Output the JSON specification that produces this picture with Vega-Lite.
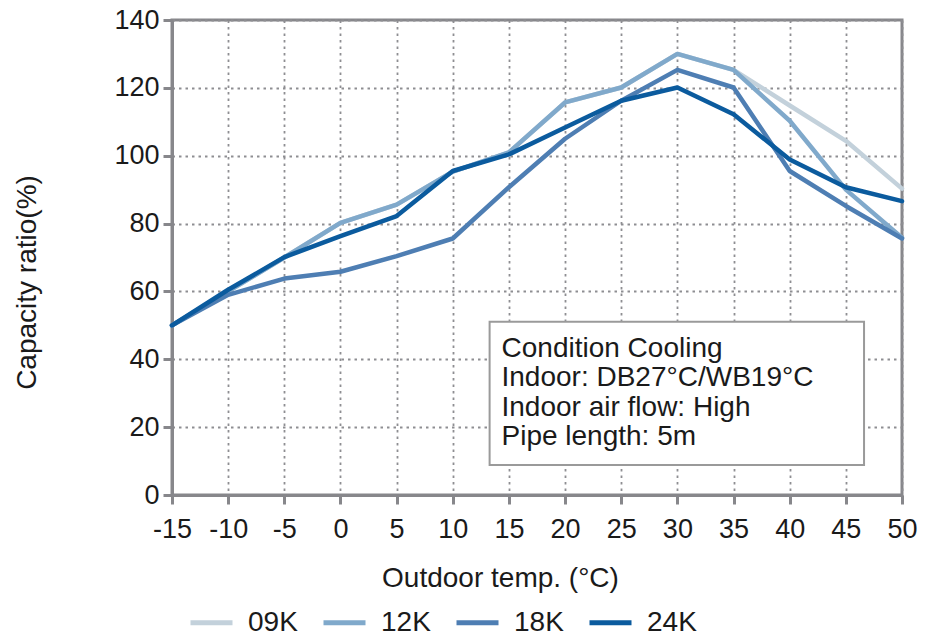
{
  "$schema": "https://vega.github.io/schema/vega-lite/v6.json",
  "width": 730,
  "height": 475,
  "autosize": {"type": "none"},
  "padding": {"left": 172, "top": 20, "right": 34, "bottom": 144},
  "background": "white",
  "config": {
    "font": "Liberation Sans",
    "view": {"stroke": "#87878b", "strokeWidth": 3},
    "axis": {
      "labelFont": "Liberation Sans",
      "titleFont": "Liberation Sans",
      "labelFontSize": 27,
      "titleFontSize": 28,
      "labelColor": "#1a1a1a",
      "titleColor": "#1a1a1a",
      "titleFontWeight": "normal",
      "domainColor": "#87878b",
      "domainWidth": 3,
      "tickColor": "#87878b",
      "tickWidth": 3,
      "tickSize": 9,
      "gridColor": "#8e8e92",
      "gridDash": [2.5, 4],
      "gridWidth": 1.8,
      "labelOverlap": false,
      "labelFlush": false,
      "labelBound": false
    }
  },
  "datasets": {
    "curves": [
      {"temp": -15, "series": "09K", "ratio": 50}, {"temp": -10, "series": "09K", "ratio": 60}, {"temp": -5, "series": "09K", "ratio": 70}, {"temp": 0, "series": "09K", "ratio": 80.2}, {"temp": 5, "series": "09K", "ratio": 85.6}, {"temp": 10, "series": "09K", "ratio": 95.3}, {"temp": 15, "series": "09K", "ratio": 101}, {"temp": 20, "series": "09K", "ratio": 115.7}, {"temp": 25, "series": "09K", "ratio": 120.1}, {"temp": 30, "series": "09K", "ratio": 130}, {"temp": 35, "series": "09K", "ratio": 125.3}, {"temp": 40, "series": "09K", "ratio": 114.8}, {"temp": 45, "series": "09K", "ratio": 104.4}, {"temp": 50, "series": "09K", "ratio": 90.3},
      {"temp": -15, "series": "12K", "ratio": 50}, {"temp": -10, "series": "12K", "ratio": 60}, {"temp": -5, "series": "12K", "ratio": 70}, {"temp": 0, "series": "12K", "ratio": 80.2}, {"temp": 5, "series": "12K", "ratio": 85.6}, {"temp": 10, "series": "12K", "ratio": 95.3}, {"temp": 15, "series": "12K", "ratio": 101}, {"temp": 20, "series": "12K", "ratio": 115.7}, {"temp": 25, "series": "12K", "ratio": 120.1}, {"temp": 30, "series": "12K", "ratio": 130}, {"temp": 35, "series": "12K", "ratio": 125.3}, {"temp": 40, "series": "12K", "ratio": 110.3}, {"temp": 45, "series": "12K", "ratio": 90}, {"temp": 50, "series": "12K", "ratio": 75.8},
      {"temp": -15, "series": "18K", "ratio": 50}, {"temp": -10, "series": "18K", "ratio": 59}, {"temp": -5, "series": "18K", "ratio": 63.8}, {"temp": 0, "series": "18K", "ratio": 65.8}, {"temp": 5, "series": "18K", "ratio": 70.4}, {"temp": 10, "series": "18K", "ratio": 75.6}, {"temp": 15, "series": "18K", "ratio": 90.7}, {"temp": 20, "series": "18K", "ratio": 105}, {"temp": 25, "series": "18K", "ratio": 116.2}, {"temp": 30, "series": "18K", "ratio": 125.3}, {"temp": 35, "series": "18K", "ratio": 120.1}, {"temp": 40, "series": "18K", "ratio": 95.5}, {"temp": 45, "series": "18K", "ratio": 85.2}, {"temp": 50, "series": "18K", "ratio": 75.6},
      {"temp": -15, "series": "24K", "ratio": 50}, {"temp": -10, "series": "24K", "ratio": 60.5}, {"temp": -5, "series": "24K", "ratio": 70.1}, {"temp": 0, "series": "24K", "ratio": 76.3}, {"temp": 5, "series": "24K", "ratio": 82.2}, {"temp": 10, "series": "24K", "ratio": 95.5}, {"temp": 15, "series": "24K", "ratio": 100.4}, {"temp": 20, "series": "24K", "ratio": 108.3}, {"temp": 25, "series": "24K", "ratio": 116.2}, {"temp": 30, "series": "24K", "ratio": 120.1}, {"temp": 35, "series": "24K", "ratio": 112.2}, {"temp": 40, "series": "24K", "ratio": 98.9}, {"temp": 45, "series": "24K", "ratio": 90.7}, {"temp": 50, "series": "24K", "ratio": 86.6}
    ],
    "box": [{"x1": 13.28, "x2": 46.62, "y1": 51.1, "y2": 8.86}],
    "note": [{"x": 14.34, "y": 40.76, "label": ["Condition Cooling", "Indoor: DB27°C/WB19°C", "Indoor air flow: High", "Pipe length: 5m"]}]
  },
  "layer": [
    {
      "data": {"name": "curves"},
      "mark": {"type": "line", "strokeWidth": 4.5, "strokeCap": "round", "strokeJoin": "round"},
      "encoding": {
        "x": {
          "field": "temp", "type": "quantitative",
          "scale": {"domain": [-15, 50], "nice": false},
          "axis": {"values": [-15,-10,-5,0,5,10,15,20,25,30,35,40,45,50], "title": "Outdoor temp. (°C)", "labelExpr": "'' + datum.value", "labelPadding": 12, "titlePadding": 22, "titleX": 328, "grid": true}
        },
        "y": {
          "field": "ratio", "type": "quantitative",
          "scale": {"domain": [0, 140], "nice": false},
          "axis": {"values": [0,20,40,60,80,100,120,140], "title": "Capacity ratio(%)", "labelPadding": 4, "titlePadding": 72, "titleY": 262, "grid": true}
        },
        "color": {
          "field": "series", "type": "nominal",
          "scale": {"domain": ["09K", "12K", "18K", "24K"], "range": ["#c3d1db", "#80a9cb", "#4e7eb3", "#0b5b9e"]},
          "legend": {
            "orient": "none", "legendX": 16, "legendY": 579, "direction": "horizontal", "title": null,
            "symbolType": "stroke", "symbolStrokeWidth": 5, "symbolSize": 1764,
            "labelFontSize": 28, "labelFont": "Liberation Sans", "labelColor": "#1a1a1a",
            "columnPadding": 15, "labelOffset": 13
          }
        },
        "order": {"field": "series"}
      }
    },
    {
      "data": {"name": "box"},
      "mark": {"type": "rect", "fill": "white", "stroke": "#9a9a9a", "strokeWidth": 2},
      "encoding": {
        "x": {"field": "x1", "type": "quantitative"},
        "x2": {"field": "x2"},
        "y": {"field": "y1", "type": "quantitative"},
        "y2": {"field": "y2"}
      }
    },
    {
      "data": {"name": "note"},
      "mark": {"type": "text", "align": "left", "baseline": "alphabetic", "fontSize": 28, "font": "Liberation Sans", "color": "#1a1a1a", "lineHeight": 29.5},
      "encoding": {
        "x": {"field": "x", "type": "quantitative"},
        "y": {"field": "y", "type": "quantitative"},
        "text": {"field": "label"}
      }
    }
  ]
}
